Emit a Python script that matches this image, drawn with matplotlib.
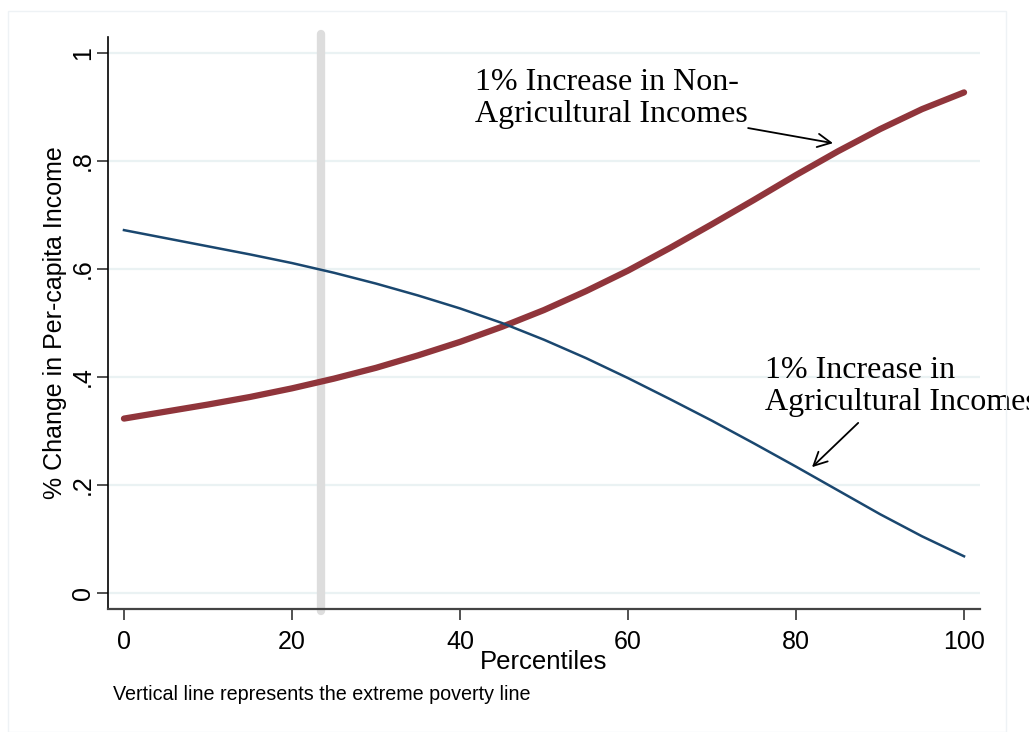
import matplotlib.pyplot as plt
from matplotlib.patches import Rectangle

# percentile grid and simulated % change in per-capita income
pctl = [0, 5, 10, 15, 20, 25, 30, 35, 40, 45, 50, 55, 60, 65, 70, 75, 80, 85, 90, 95, 100]
agri = [0.672, 0.657, 0.642, 0.627, 0.611, 0.593, 0.573, 0.551, 0.527, 0.500, 0.469,
        0.435, 0.398, 0.359, 0.319, 0.277, 0.234, 0.190, 0.146, 0.105, 0.068]
nonagri = [0.323, 0.336, 0.349, 0.363, 0.379, 0.397, 0.417, 0.440, 0.465, 0.493, 0.524,
           0.559, 0.597, 0.639, 0.683, 0.728, 0.774, 0.818, 0.859, 0.896, 0.927]
poverty_line = 23.5
yticks = [0, 0.2, 0.4, 0.6, 0.8, 1.0]
ytick_labels = ['0', '.2', '.4', '.6', '.8', '1']
xticks = [0, 20, 40, 60, 80, 100]

plt.rcParams['font.family'] = ['Liberation Sans', 'DejaVu Sans']
serif = ['Liberation Serif', 'DejaVu Serif']

fig = plt.figure(figsize=(10.29, 7.32), dpi=100)
fig.patches.append(Rectangle((8 / 1029, 0), 998 / 1029, 721 / 732, transform=fig.transFigure,
                             fill=False, edgecolor='#eef2f5', linewidth=1))
ax = fig.add_axes([108 / 1029, 123 / 732, 872 / 1029, 572 / 732])

for y in yticks:
    ax.axhline(y, color='#eaf2f3', linewidth=1.6, zorder=0)

ax.axvline(poverty_line, color='#dddddd', linewidth=6, solid_capstyle='round', zorder=1,
           ymin=-0.003, ymax=1.005, clip_on=False)
ax.plot(pctl, agri, color='#1a476f', linewidth=1.8, zorder=3)
ax.plot(pctl, nonagri, color='#90353b', linewidth=4.5, solid_capstyle='round', zorder=2)

ax.set_xlim(-1.9, 101.9)
ax.set_ylim(-0.0296, 1.0296)
ax.set_xticks(xticks)
ax.set_yticks(yticks)
ax.set_yticklabels(ytick_labels, rotation=90, va='center')
ax.tick_params(axis='both', labelsize=18, length=8, width=1.2, color='#333333')
ax.tick_params(axis='x', pad=7)
ax.tick_params(axis='y', pad=1.5)

for side in ['top', 'right']:
    ax.spines[side].set_visible(False)
ax.spines['left'].set_color('black')
ax.spines['bottom'].set_color('#444444')
ax.spines['left'].set_linewidth(1.2)
ax.spines['bottom'].set_linewidth(1.6)

ax.set_xlabel('Percentiles', fontsize=18.5, labelpad=-3)
ax.set_ylabel('% Change in Per-capita Income', fontsize=18, labelpad=3)

fig.text(113 / 1029, 1 - 695 / 732, 'Vertical line represents the extreme poverty line',
         fontsize=14.2, va='center', ha='left')

# curve labels and their arrows
ax.text(41.8, 0.916, '1% Increase in Non-\nAgricultural Incomes', fontsize=23, family=serif,
        ha='left', va='center', linespacing=1.15)
ax.text(76.3, 0.382, '1% Increase in\nAgricultural Incomes', fontsize=23, family=serif,
        ha='left', va='center', linespacing=1.15, clip_on=False)
arrow = dict(arrowstyle='->', color='black', lw=1.3, mutation_scale=24, shrinkA=0, shrinkB=0)
ax.annotate('', xy=(84.4, 0.833), xytext=(74.3, 0.861), arrowprops=arrow)
ax.annotate('', xy=(81.9, 0.233), xytext=(87.4, 0.315), arrowprops=arrow)

fig.savefig('out.png', dpi=100, facecolor='white')
